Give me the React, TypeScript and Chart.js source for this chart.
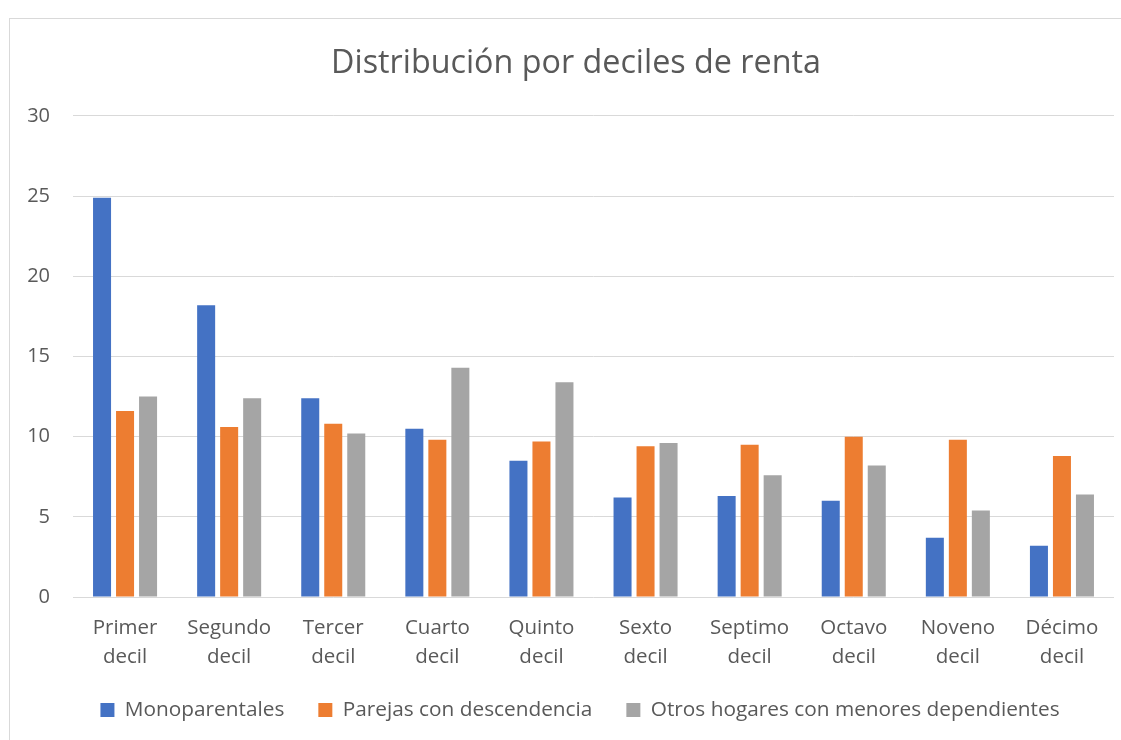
import React, { useEffect, useRef } from "react";
import { Chart, registerables } from "chart.js";

Chart.register(...registerables);

const categories: string[][] = [
  ["Primer", "decil"],
  ["Segundo", "decil"],
  ["Tercer", "decil"],
  ["Cuarto", "decil"],
  ["Quinto", "decil"],
  ["Sexto", "decil"],
  ["Septimo", "decil"],
  ["Octavo", "decil"],
  ["Noveno", "decil"],
  ["Décimo", "decil"],
];

const monoparentales = [24.9, 18.2, 12.4, 10.5, 8.5, 6.2, 6.3, 6.0, 3.7, 3.2];
const parejas = [11.6, 10.6, 10.8, 9.8, 9.7, 9.4, 9.5, 10.0, 9.8, 8.8];
const otros = [12.5, 12.4, 10.2, 14.3, 13.4, 9.6, 7.6, 8.2, 5.4, 6.4];

const seriesNames = [
  "Monoparentales",
  "Parejas con descendencia",
  "Otros hogares con menores dependientes",
];

const yTicks = [0, 5, 10, 15, 20, 25, 30];

const TEXT = "#595959";
const GRID = "#D9D9D9";
const FONT = "'Open Sans', sans-serif";

const borderPlugin = {
  id: "outerBorder",
  beforeDraw(chart: any) {
    const ctx = chart.ctx;
    ctx.save();
    ctx.fillStyle = "#ffffff";
    ctx.fillRect(0, 0, chart.width, chart.height);
    ctx.strokeStyle = GRID;
    ctx.lineWidth = 1;
    ctx.strokeRect(9.5, 18.5, chart.width + 50, chart.height + 50);
    ctx.restore();
  },
};

// Place the title and legend bands like the reference
const placePlugin = {
  id: "placeBands",
  afterLayout(chart: any) {
    const lg = chart.legend;
    if (lg) {
      const h = lg.height;
      lg.left = 46;
      lg.right = 1114;
      lg.width = lg.right - lg.left;
      lg.top = 665.6;
      lg.bottom = lg.top + h;
    }
    const tb = chart.titleBlock;
    if (tb) {
      tb.left = 31;
      tb.right = 1121;
      tb.width = tb.right - tb.left;
    }
  },
};

export default function App() {
  const ref = useRef<HTMLCanvasElement | null>(null);

  useEffect(() => {
    if (!ref.current) return;
    const chart = new Chart(ref.current, {
      type: "bar",
      data: {
        labels: categories,
        datasets: [
          { label: seriesNames[0], data: monoparentales, backgroundColor: "#4472C4" },
          { label: seriesNames[1], data: parejas, backgroundColor: "#ED7D31" },
          { label: seriesNames[2], data: otros, backgroundColor: "#A5A5A5" },
        ],
      },
      options: {
        animation: false,
        responsive: true,
        maintainAspectRatio: false,
        datasets: {
          bar: { categoryPercentage: 0.663, barPercentage: 0.783 },
        },
        layout: { padding: { top: 18, left: 9, right: 7, bottom: 0 } },
        plugins: {
          title: {
            display: true,
            text: "Distribución por deciles de renta",
            color: TEXT,
            font: { family: FONT, size: 32.3, weight: "normal", lineHeight: 1.2 },
            padding: { top: 26, bottom: 33.2 },
          },
          legend: {
            position: "bottom",
            maxHeight: 68,
            labels: {
              color: TEXT,
              font: { family: FONT, size: 20.8 },
              boxWidth: 14,
              boxHeight: 14,
              padding: 34,
            },
          },
          tooltip: { enabled: false },
        },
        scales: {
          x: {
            grid: { display: false, drawTicks: false },
            border: { display: false },
            ticks: {
              color: TEXT,
              font: { family: FONT, size: 20.5, lineHeight: 1.415 },
              padding: 17,
              maxRotation: 0,
              autoSkip: false,
            },
            afterFit(axis: any) {
              axis.height = 78.2;
            },
          },
          y: {
            min: 0,
            max: 30,
            afterBuildTicks(axis: any) {
              axis.ticks = yTicks.map((v) => ({ value: v }));
            },
            grid: { color: GRID, lineWidth: 1, drawTicks: false },
            border: { display: false },
            ticks: {
              color: TEXT,
              font: { family: FONT, size: 20 },
              padding: 23,
            },
            afterFit(axis: any) {
              axis.width = 64;
            },
          },
        },
      },
      plugins: [borderPlugin, placePlugin],
    });
    return () => chart.destroy();
  }, []);

  return (
    <div style={{ position: "fixed", left: 0, top: 0, width: 1121, height: 740, background: "#fff" }}>
      <canvas ref={ref} />
    </div>
  );
}
